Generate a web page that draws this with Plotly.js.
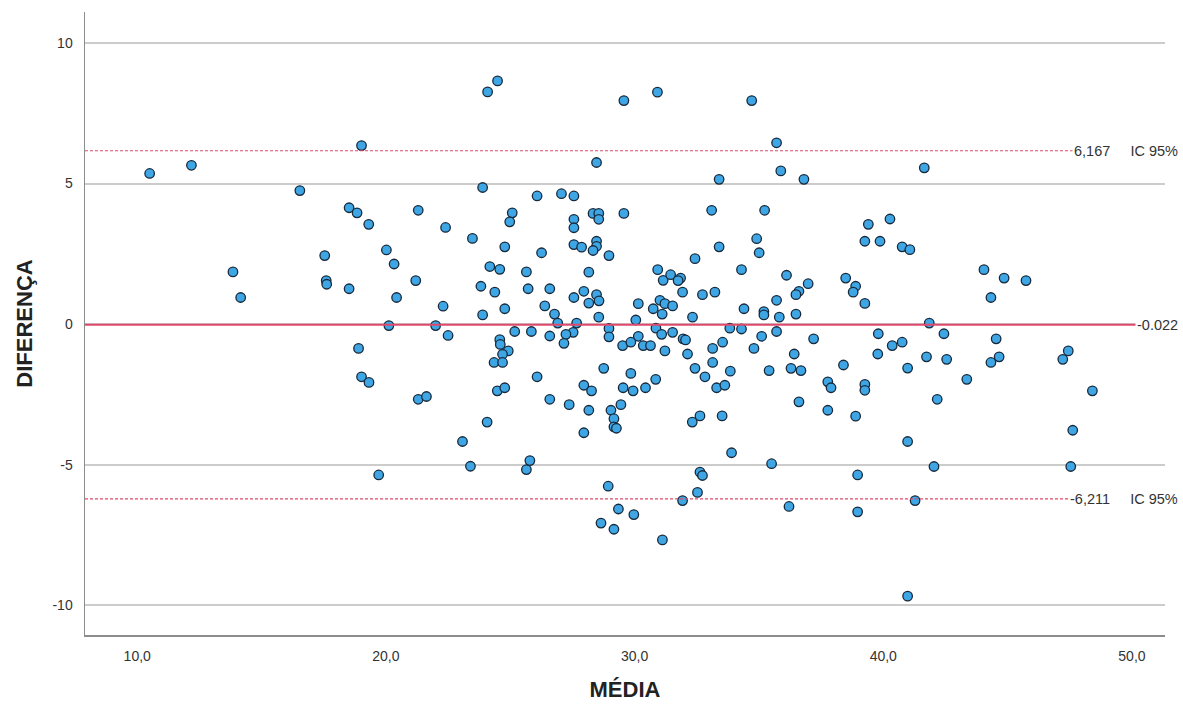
<!DOCTYPE html>
<html>
<head>
<meta charset="utf-8">
<script src="https://cdn.plot.ly/plotly-3.0.1.min.js"></script>
<style>html,body{margin:0;padding:0;background:#fff;}#chart{width:1183px;height:706px;}</style>
</head>
<body>
<div id="chart"></div>
<script>
// Média (x) values of each point
var media = [
10.5,12.18,16.54,17.54,17.6,17.62,13.85,14.16,
19.02,24.09,24.49,23.89,18.52,18.84,19.31,21.3,22.4,23.48,25.08,24.98,24.78,20.02,20.33,21.2,24.18,24.58,25.65,25.72,23.82,24.38,18.52,20.43,22.3,24.78,23.89,20.12,22.0,22.5,25.18,25.85,
18.9,19.02,19.32,21.3,21.63,24.58,24.6,24.92,24.69,24.35,24.69,24.48,24.78,24.07,23.08,23.4,19.71,25.65,25.79,
29.57,30.92,28.47,33.4,26.08,27.06,27.56,28.33,28.56,28.56,29.57,27.56,27.56,33.1,26.26,27.56,27.87,28.47,28.47,28.33,28.97,33.4,32.43,28.16,30.93,31.15,31.45,31.85,31.75,26.59,27.96,28.47,27.56,28.57,28.16,31.93,32.73,33.23,26.39,30.15,31.02,31.22,31.53,30.75,26.78,26.91,27.67,28.56,30.05,31.11,32.33,28.97,27.53,27.24,26.59,30.86,30.15,31.09,31.53,31.95,28.97,
27.16,29.52,29.85,30.35,30.64,32.05,31.22,32.13,33.14,33.54,33.14,32.43,32.83,33.3,33.63,33.85,26.08,28.76,29.85,30.85,27.96,28.27,29.54,29.94,30.44,26.59,27.37,28.16,29.05,29.45,29.17,29.17,29.27,27.96,32.32,32.63,33.52,33.9,32.63,32.73,28.94,32.53,31.93,29.35,29.97,28.65,29.17,31.12,
34.71,35.71,35.88,36.81,41.65,35.23,34.91,35.01,34.3,36.11,36.98,36.61,36.49,35.71,34.4,35.2,35.2,35.82,36.49,33.83,34.3,35.11,35.71,37.2,39.4,40.27,39.26,39.87,40.76,41.07,38.49,38.89,38.79,39.26,39.8,41.85,
34.8,40.36,40.76,39.78,41.74,36.42,35.41,36.29,36.69,38.4,40.98,37.77,37.9,39.26,39.26,36.61,37.77,38.89,40.98,35.51,38.97,36.21,38.97,41.28,40.98,42.04,
44.05,44.86,45.74,44.33,42.44,44.54,42.55,44.33,44.66,43.36,42.17,47.22,47.44,48.41,47.62,47.54
];
// Diferença (y) values of each point
var diferenca = [
5.36,5.65,4.75,2.44,1.55,1.42,1.86,0.95,
6.35,8.26,8.65,4.86,4.14,3.96,3.55,4.05,3.44,3.05,3.96,3.64,2.75,2.64,2.14,1.55,2.05,1.95,1.86,1.26,1.35,1.14,1.26,0.95,0.64,0.55,0.33,-0.05,-0.05,-0.4,-0.26,-0.26,
-0.86,-1.87,-2.07,-2.67,-2.57,-0.55,-0.72,-0.95,-1.07,-1.36,-1.36,-2.37,-2.26,-3.48,-4.17,-5.05,-5.36,-5.17,-4.85,
7.95,8.25,5.75,5.15,4.56,4.64,4.56,3.94,3.94,3.73,3.94,3.73,3.43,4.05,2.54,2.83,2.74,2.95,2.77,2.62,2.44,2.75,2.33,1.85,1.94,1.56,1.76,1.64,1.55,1.26,1.17,1.05,0.95,0.83,0.75,1.14,1.05,1.14,0.65,0.73,0.85,0.73,0.65,0.55,0.36,0.04,0.04,0.25,0.15,0.36,0.25,-0.15,-0.29,-0.36,-0.42,-0.14,-0.43,-0.36,-0.29,-0.52,-0.45,
-0.68,-0.76,-0.64,-0.76,-0.76,-0.56,-0.95,-1.06,-0.86,-0.64,-1.36,-1.57,-1.87,-2.26,-2.17,-1.67,-1.87,-1.57,-1.75,-1.96,-2.17,-2.37,-2.26,-2.37,-2.26,-2.67,-2.86,-3.06,-3.06,-2.86,-3.36,-3.65,-3.7,-3.86,-3.48,-3.26,-3.26,-4.57,-5.26,-5.38,-5.76,-5.98,-6.27,-6.57,-6.77,-7.07,-7.29,-7.67,
7.95,6.45,5.45,5.15,5.56,4.05,3.04,2.54,1.94,1.74,1.44,1.17,1.05,0.85,0.55,0.45,0.33,0.25,0.36,-0.14,-0.17,-0.43,-0.26,-0.52,3.55,3.74,2.95,2.95,2.75,2.65,1.64,1.35,1.14,0.74,-0.34,0.04,
-0.86,-0.76,-0.64,-1.06,-1.16,-1.06,-1.65,-1.57,-1.65,-1.45,-1.56,-2.05,-2.26,-2.14,-2.35,-2.76,-3.06,-3.27,-4.17,-4.96,-5.36,-6.48,-6.67,-6.27,-9.67,-5.06,
1.94,1.64,1.55,0.95,-0.34,-0.52,-1.25,-1.36,-1.16,-1.96,-2.67,-1.25,-0.95,-2.37,-3.77,-5.06
];
// Reference lines
var meanDiff = -0.022;
var upperLimit = 6.167;
var lowerLimit = -6.211;
var meanLabel = "-0.022";
var upperLabel = "6,167\u00a0\u00a0\u00a0\u00a0\u00a0IC 95%";
var lowerLabel = "-6,211\u00a0\u00a0\u00a0\u00a0\u00a0IC 95%";
// Ticks
var xTickVals = [10, 20, 30, 40, 50];
var xTickText = ["10,0", "20,0", "30,0", "40,0", "50,0"];
var yTickVals = [-10, -5, 0, 5, 10];
var yTickText = ["-10", "-5", "0", "5", "10"];

var red = "#df4a6c";
var fam = "Liberation Sans, Arial, sans-serif";
var trace = {
  x: media, y: diferenca, type: "scatter", mode: "markers",
  marker: {size: 9.5, color: "#3ea6e4", line: {color: "#17293b", width: 1.3}},
  hoverinfo: "x+y", showlegend: false
};

var layout = {
  width: 1183, height: 706,
  margin: {l: 85, r: 18, t: 12, b: 71},
  paper_bgcolor: "#fff", plot_bgcolor: "#fff",
  font: {family: fam, color: "#333", size: 14},
  showlegend: false,
  xaxis: {
    range: [7.9, 51.33], tickvals: xTickVals, ticktext: xTickText,
    showgrid: false, zeroline: false, showline: true, linecolor: "#8c8c8c", linewidth: 1.5,
    ticks: "", ticklabelstandoff: 8,
    tickfont: {size: 14, color: "#333"},
    title: {text: "MÉDIA", font: {size: 22, color: "#222", family: fam, weight: "bold"}, standoff: 18}
  },
  yaxis: {
    range: [-11.05, 11.1], tickvals: yTickVals, ticktext: yTickText,
    showgrid: true, gridcolor: "#cccccc", gridwidth: 2, zeroline: false,
    showline: true, linecolor: "#8c8c8c", linewidth: 1.5,
    ticks: "", ticklabelstandoff: 8,
    tickfont: {size: 14, color: "#333"},
    title: {text: "DIFERENÇA", font: {size: 22, color: "#222", family: fam, weight: "bold"}, standoff: 14}
  },
  shapes: [
    {type: "line", xref: "paper", x0: 0, x1: 1, yref: "y", y0: meanDiff, y1: meanDiff, line: {color: red, width: 2}},
    {type: "line", xref: "paper", x0: 0, x1: 1, yref: "y", y0: upperLimit, y1: upperLimit, line: {color: red, width: 1.2, dash: "3px,2px"}},
    {type: "line", xref: "paper", x0: 0, x1: 1, yref: "y", y0: lowerLimit, y1: lowerLimit, line: {color: red, width: 1.2, dash: "3px,2px"}}
  ],
  annotations: [
    {xref: "paper", x: 1.0139, xanchor: "right", yref: "y", y: upperLimit, yanchor: "middle", text: upperLabel, showarrow: false, bgcolor: "#fff", font: {size: 14.5, color: "#333"}, borderpad: 1},
    {xref: "paper", x: 1.0139, xanchor: "right", yref: "y", y: meanDiff, yanchor: "middle", text: meanLabel, showarrow: false, bgcolor: "#fff", font: {size: 14.5, color: "#333"}, borderpad: 1},
    {xref: "paper", x: 1.0139, xanchor: "right", yref: "y", y: lowerLimit, yanchor: "middle", text: lowerLabel, showarrow: false, bgcolor: "#fff", font: {size: 14.5, color: "#333"}, borderpad: 1}
  ]
};

Plotly.newPlot("chart", [trace], layout, {displayModeBar: false, staticPlot: true});
</script>
</body>
</html>
